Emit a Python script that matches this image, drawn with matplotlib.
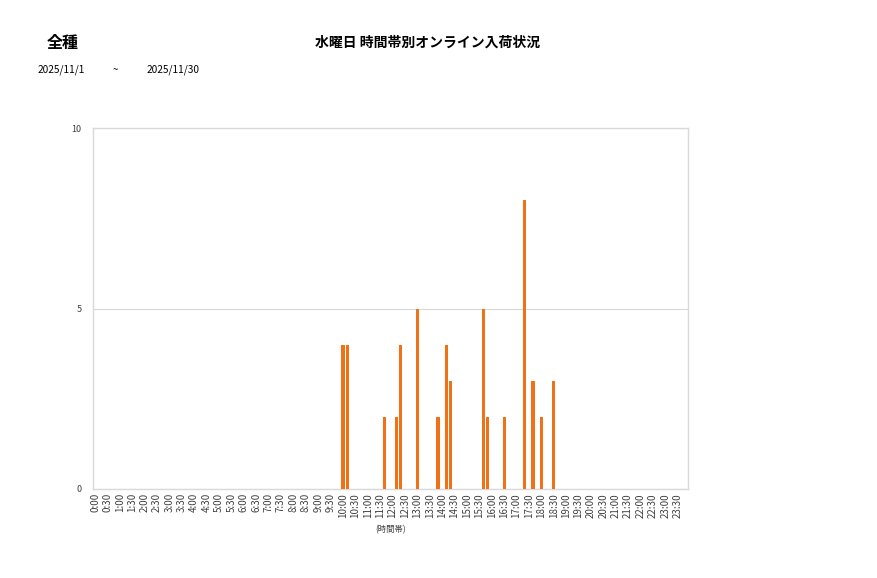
import numpy as np
import matplotlib
matplotlib.use("Agg")
import matplotlib.pyplot as plt

plt.rcParams['font.family'] = ['Noto Sans CJK JP', 'DejaVu Sans']

# 10-minute slots over the day, labelled every 30 minutes
slots = ["%d:%02d" % (h, m) for h in range(24) for m in range(0, 60, 10)]
arrivals = {
    "10:00": 4, "10:10": 4, "11:40": 2, "12:10": 2, "12:20": 4,
    "13:00": 5, "13:50": 2, "14:10": 4, "14:20": 3, "15:40": 5,
    "15:50": 2, "16:30": 2, "17:20": 8, "17:40": 3, "18:00": 2,
    "18:30": 3,
}
counts = [arrivals.get(s, 0) for s in slots]
tick_labels = ["%d:%02d" % (h, m) for h in range(24) for m in (0, 30)]

fig = plt.figure(figsize=(8.77, 5.78), dpi=100)
ax = fig.add_axes([0.106, 0.154, 0.6785, 0.6245])

x = np.arange(len(slots))
ax.bar(x, counts, width=0.75, color="#f07116", zorder=3)

ax.set_xlim(-0.5, len(slots) - 0.5)
ax.set_ylim(0, 10)
ax.set_yticks([0, 5, 10])
ax.set_yticklabels(["0", "5", "10"], fontsize=6.5, color="#404040")
ax.set_xticks(x[::3])
ax.set_xticklabels(tick_labels, rotation=90, fontsize=7, color="#404040")
ax.tick_params(length=0, pad=3)
ax.tick_params(axis="y", pad=8)
ax.yaxis.grid(True, color="#d9d9d9", linewidth=0.8, zorder=0)
for sp in ax.spines.values():
    sp.set_color("#d9d9d9")
    sp.set_linewidth(1)
ax.set_xlabel("(時間帯)", fontsize=6, color="#404040", labelpad=5)

fig.text(63 / 877, 1 - 43 / 578, "全種", fontsize=11.5, fontweight="bold",
         ha="center", va="center")
fig.text(428 / 877, 1 - 43 / 578, "水曜日 時間帯別オンライン入荷状況",
         fontsize=10, fontweight="bold", ha="center", va="center")
fig.text(38 / 877, 1 - 70 / 578, "2025/11/1", fontsize=7.3, va="center")
fig.text(115 / 877, 1 - 70 / 578, "~", fontsize=7, va="center", ha="center")
fig.text(147 / 877, 1 - 70 / 578, "2025/11/30", fontsize=7.3, va="center")

plt.savefig("out.png", dpi=100)
